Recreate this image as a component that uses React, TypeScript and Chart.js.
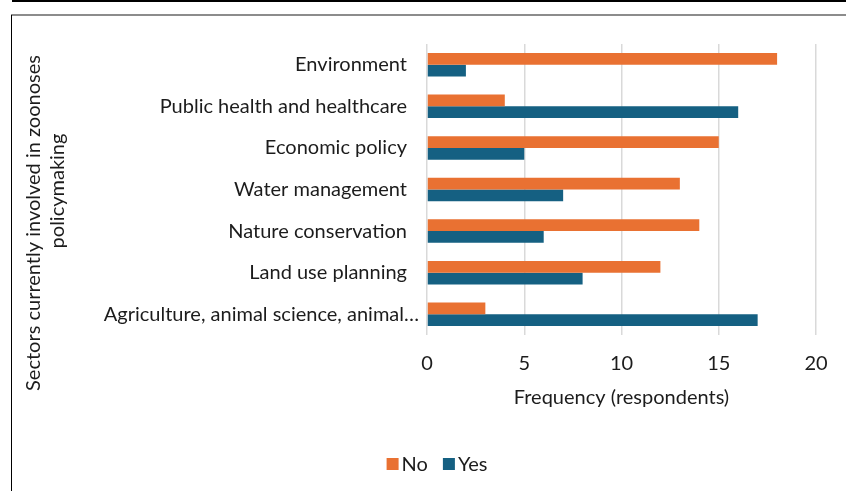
import React, { useEffect, useRef } from "react";
import { Chart, registerables } from "chart.js";

Chart.register(...registerables);

// ---- data ----
const categories = [
  "Environment",
  "Public health and healthcare",
  "Economic policy",
  "Water management",
  "Nature conservation",
  "Land use planning",
  "Agriculture, animal science, animal…",
];
const seriesNames = ["No", "Yes"];
const noValues = [18, 4, 15, 13, 14, 12, 3];
const yesValues = [2, 16, 5, 7, 6, 8, 17];
const xMin = 0;
const xMax = 20;
const xStep = 5;
const xTitle = "Frequency (respondents)";
const yTitleLines = ["Sectors currently involved in zoonoses", "policymaking"];

// ---- style ----
const seriesColors = ["#E97132", "#156082"];
const FONT_FAMILY = "Lato, 'Noto Sans', sans-serif";
const FONT_SIZE = 20;
const TEXT_COLOR = "#1c1c1c";
const GRID_COLOR = "#d9d9d9";

// category labels drawn next to the plot (truncated labels sit closer, as in the source)
const yLabelPlugin = {
  id: "yLabelsCustom",
  afterDraw(chart: any) {
    const ctx = chart.ctx;
    const ys = chart.scales.y;
    const left = chart.chartArea.left;
    ctx.save();
    ctx.font = `${FONT_SIZE}px ${FONT_FAMILY}`;
    ctx.fillStyle = TEXT_COLOR;
    ctx.textAlign = "right";
    ctx.textBaseline = "middle";
    (chart.data.labels as string[]).forEach((label, i) => {
      const y = ys.getPixelForTick(i);
      const off = label.endsWith("…") ? 8 : 20;
      ctx.fillText(label, left - off, y);
    });
    ctx.restore();
  },
};

const yTitlePlugin = {
  id: "yTitleCustom",
  afterDraw(chart: any) {
    const ctx = chart.ctx;
    ctx.save();
    ctx.font = `${FONT_SIZE}px ${FONT_FAMILY}`;
    ctx.fillStyle = TEXT_COLOR;
    ctx.textAlign = "center";
    ctx.textBaseline = "middle";
    const spots = [
      { x: 22, y: 207 },
      { x: 46, y: 175 },
    ];
    yTitleLines.forEach((line, i) => {
      ctx.save();
      ctx.translate(spots[i].x, spots[i].y);
      ctx.rotate(-Math.PI / 2);
      ctx.fillText(line, 0, 0);
      ctx.restore();
    });
    ctx.restore();
  },
};

const legendPlugin = {
  id: "legendCustom",
  afterDraw(chart: any) {
    const ctx = chart.ctx;
    ctx.save();
    ctx.font = `${FONT_SIZE}px ${FONT_FAMILY}`;
    ctx.textBaseline = "middle";
    ctx.textAlign = "left";
    const box = 12;
    const gap = 3;
    const itemGap = 15;
    const datasets = chart.data.datasets;
    const widths = datasets.map((d: any) => box + gap + ctx.measureText(d.label).width);
    const total = widths.reduce((a: number, b: number) => a + b, 0) + itemGap * (datasets.length - 1);
    const cx = chart.width / 2 + 8;
    const cy = 448;
    let x = cx - total / 2;
    datasets.forEach((d: any, i: number) => {
      ctx.fillStyle = d.backgroundColor;
      ctx.fillRect(x, cy - box / 2, box, box);
      ctx.fillStyle = TEXT_COLOR;
      ctx.fillText(d.label, x + box + gap, cy + 1);
      x += widths[i] + itemGap;
    });
    ctx.restore();
  },
};

export default function App() {
  const canvasRef = useRef<HTMLCanvasElement | null>(null);

  useEffect(() => {
    if (!canvasRef.current) return;
    const font = { family: FONT_FAMILY, size: FONT_SIZE };
    const chart = new Chart(canvasRef.current, {
      type: "bar",
      data: {
        labels: categories,
        datasets: [
          {
            label: seriesNames[0],
            data: noValues,
            backgroundColor: seriesColors[0],
            categoryPercentage: 0.565,
            barPercentage: 1.0,
          },
          {
            label: seriesNames[1],
            data: yesValues,
            backgroundColor: seriesColors[1],
            categoryPercentage: 0.565,
            barPercentage: 1.0,
          },
        ],
      },
      options: {
        indexAxis: "y",
        animation: false,
        responsive: false,
        maintainAspectRatio: false,
        layout: { padding: { top: 28, right: 30, bottom: 76, left: 0 } },
        plugins: {
          legend: { display: false },
          tooltip: { enabled: false },
          title: { display: false },
        },
        scales: {
          x: {
            type: "linear",
            min: xMin,
            max: xMax,
            ticks: { stepSize: xStep, font, color: TEXT_COLOR, padding: 17 },
            grid: { color: GRID_COLOR, lineWidth: 1.5, drawTicks: false },
            border: { display: false },
            title: {
              display: true,
              text: xTitle,
              font,
              color: TEXT_COLOR,
              padding: { top: 0, bottom: 5 },
            },
            afterFit(scale: any) {
              scale.height = 80;
              scale.paddingLeft = 0;
              scale.paddingRight = 0;
            },
          },
          y: {
            type: "category",
            ticks: { display: false, font, autoSkip: false },
            grid: { display: false, drawTicks: false },
            border: { display: false },
            afterFit(scale: any) {
              scale.width = 415;
              scale.paddingTop = 0;
              scale.paddingBottom = 0;
            },
          },
        },
      },
      plugins: [yLabelPlugin, yTitlePlugin, legendPlugin],
    });
    return () => chart.destroy();
  }, []);

  return (
    <div
      style={{
        position: "absolute",
        left: 0,
        top: 0,
        width: 846,
        height: 491,
        overflow: "hidden",
        background: "#ffffff",
      }}
    >
      <div style={{ position: "absolute", left: 12, top: 0, width: 834, height: 2, background: "#000" }} />
      <div style={{ position: "absolute", left: 11, top: 14, width: 835, height: 2, background: "#8c8c8c" }} />
      <div style={{ position: "absolute", left: 11, top: 15, width: 1, height: 476, background: "#000" }} />
      <canvas
        ref={canvasRef}
        width={834}
        height={475}
        style={{ position: "absolute", left: 12, top: 16, width: 834, height: 475 }}
      />
    </div>
  );
}
